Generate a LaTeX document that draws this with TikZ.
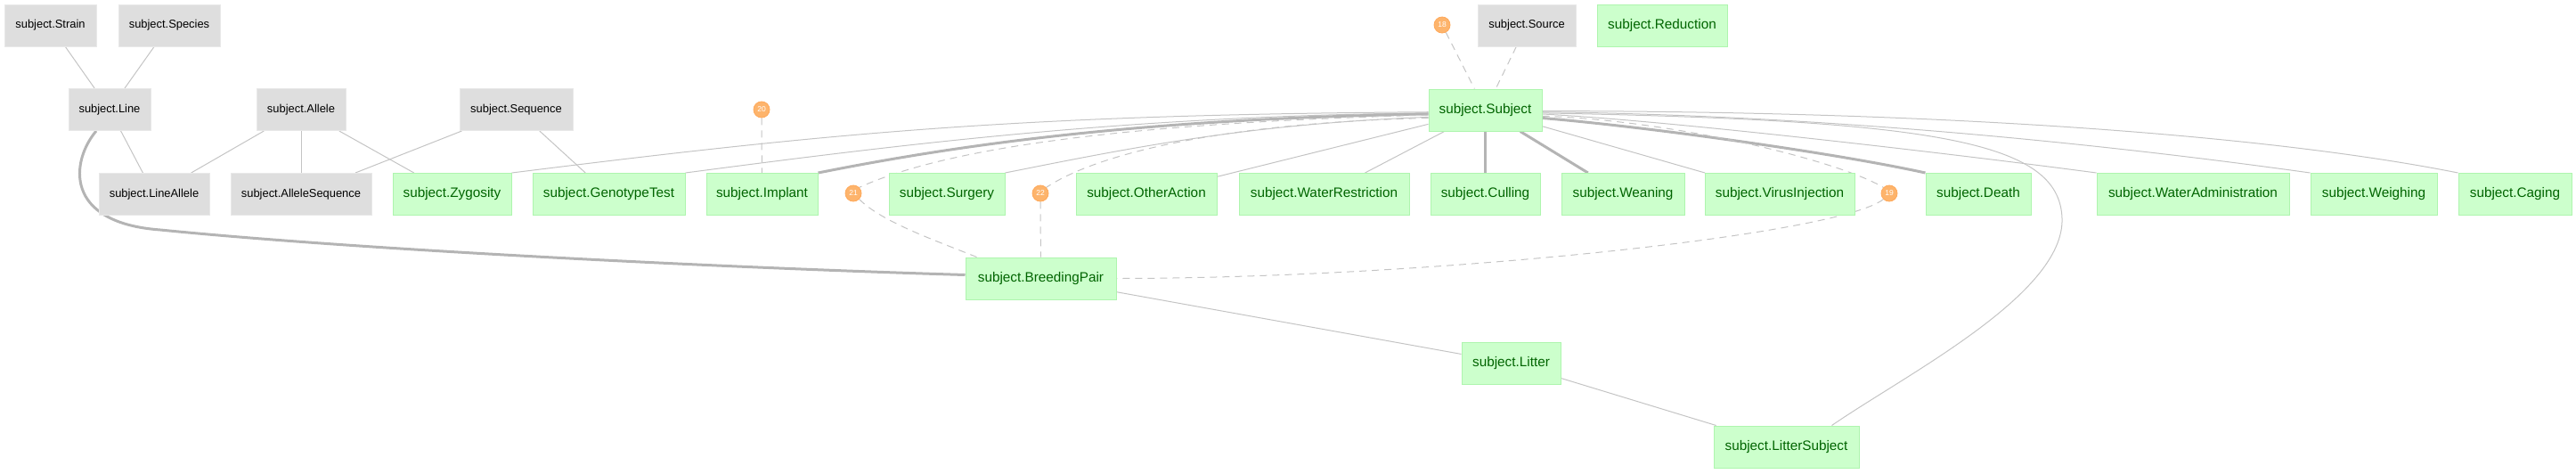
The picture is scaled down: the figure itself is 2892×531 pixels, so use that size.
\documentclass[tikz,border=0pt]{standalone}
\usepackage{fontspec}
\setmainfont{Liberation Sans}
\usetikzlibrary{backgrounds}
\definecolor{gfill}{HTML}{CCFFCC}
\definecolor{gborder}{HTML}{AEF5AE}
\definecolor{gtext}{HTML}{006400}
\definecolor{nfill}{HTML}{DEDEDE}
\definecolor{nborder}{HTML}{E8E8E8}
\definecolor{cfill}{HTML}{FDB46C}
\definecolor{cborder}{HTML}{FFA95A}
\definecolor{ecol}{HTML}{C4C4C4}
\definecolor{ecolt}{HTML}{B4B4B4}
\definecolor{dcol}{HTML}{C4C4C4}
\begin{document}
\begin{tikzpicture}[x=1pt,y=-1pt,
  gnode/.style={draw=gborder, fill=gfill, text=gtext, line width=1pt,
    font=\fontsize{15.3}{18}\selectfont, minimum height=47pt, inner sep=0pt, minimum width=#1},
  nnode/.style={draw=nborder, fill=nfill, text=black, line width=1pt,
    font=\fontsize{12.9}{15}\selectfont, minimum height=47pt, inner sep=0pt, minimum width=#1},
  numc/.style={circle, fill=cfill, draw=cborder, line width=0.8pt, text=white,
    font=\fontsize{8.5}{9}\selectfont, minimum size=18pt, inner sep=0pt},
  thinedge/.style={draw=ecol, line width=1pt},
  thickedge/.style={draw=ecolt, line width=3pt},
  dashedge/.style={draw=dcol, line width=1pt, dash pattern=on 8pt off 6pt}]
\useasboundingbox (0,0) rectangle (2892,531);
% gray nodes
\node[nnode=103] (strain) at (56.5,28.5) {subject.Strain};
\node[nnode=114] (species) at (190,28.5) {subject.Species};
\node[nnode=92] (line) at (123,123) {subject.Line};
\node[nnode=100] (allele) at (338,123) {subject.Allele};
\node[nnode=127] (sequence) at (579.5,123) {subject.Sequence};
\node[nnode=124] (lineallele) at (173,218) {subject.LineAllele};
\node[nnode=158] (alleleseq) at (338,218) {subject.AlleleSequence};
\node[nnode=110] (source) at (1714,28.5) {subject.Source};
% green nodes
\node[gnode=146] (reduction) at (1866,28.5) {subject.Reduction};
\node[gnode=127] (subj) at (1667.5,123.5) {subject.Subject};
\node[gnode=133] (zyg) at (507.5,218) {subject.Zygosity};
\node[gnode=171] (geno) at (683.5,218) {subject.GenotypeTest};
\node[gnode=125] (implant) at (855.5,218) {subject.Implant};
\node[gnode=130] (surgery) at (1063,218) {subject.Surgery};
\node[gnode=158] (other) at (1287,218) {subject.OtherAction};
\node[gnode=191] (waterrestr) at (1486.5,218) {subject.WaterRestriction};
\node[gnode=123] (culling) at (1667.5,218) {subject.Culling};
\node[gnode=138] (weaning) at (1822,218) {subject.Weaning};
\node[gnode=168] (virus) at (1998,218) {subject.VirusInjection};
\node[gnode=118] (death) at (2221,218) {subject.Death};
\node[gnode=216] (wateradmin) at (2462,218) {subject.WaterAdministration};
\node[gnode=142] (weighing) at (2665,218) {subject.Weighing};
\node[gnode=127] (caging) at (2823.5,218) {subject.Caging};
\node[gnode=169] (breeding) at (1168.5,312.5) {subject.BreedingPair};
\node[gnode=111] (litter) at (1696.5,407.5) {subject.Litter};
\node[gnode=163] (littersubj) at (2005.5,501.5) {subject.LitterSubject};
% number circles
\node[numc] (c18) at (1619,28) {18};
\node[numc] (c20) at (855,123) {20};
\node[numc] (c21) at (958,217) {21};
\node[numc] (c22) at (1168,217) {22};
\node[numc] (c19) at (2121,217) {19};
\coordinate (lsbend) at (2315,245);
\coordinate (lpbend) at (180,258);
\begin{scope}[on background layer]
% gray edges
\draw[thinedge] (strain) -- (line);
\draw[thinedge] (species) -- (line);
\draw[thinedge] (line) -- (lineallele);
\draw[thinedge] (allele) -- (lineallele);
\draw[thinedge] (allele) -- (alleleseq);
\draw[thinedge] (allele) -- (zyg);
\draw[thinedge] (sequence) -- (alleleseq);
\draw[thinedge] (sequence) -- (geno);
\draw[thickedge] ([xshift=-15pt]line.south) .. controls (80,180) and (70,250) .. (lpbend)
   .. controls (400,280) and (800,300) .. ([yshift=4pt]breeding.west);
% subject top
\draw[dashedge] (c18) -- (subj);
\draw[dashedge] (source) -- (subj);
\draw[dashedge] (c20) -- (implant);
% subject left side
\draw[thinedge] (subj.182) .. controls +(-460,3) and +(360,-45) .. (zyg.north east);
\draw[thinedge] (subj.183) .. controls +(-330,3) and +(250,-33) .. (geno.north east);
\draw[thickedge] (subj.184) .. controls +(-300,5) and +(180,-36) .. (implant.north east);
\draw[dashedge] (subj.185) .. controls +(-300,8) and +(110,-50) .. (c21.north east);
\draw[dashedge] (c21.south east) .. controls +(25,25) and +(-50,-20) .. ([xshift=13pt]breeding.north west);
\draw[thinedge] (subj.187) .. controls +(-200,8) and +(150,-30) .. (surgery.north east);
\draw[dashedge] (subj.188) .. controls +(-220,5) and +(60,-40) .. (c22.north east);
\draw[dashedge] (c22) -- (breeding);
\draw[thinedge] (subj) -- (other);
\draw[thinedge] (subj) -- (waterrestr);
\draw[thickedge] (subj) -- (culling);
\draw[thickedge] (subj) -- (weaning);
\draw[thinedge] (subj) -- (virus);
% subject right side
\draw[thickedge] (subj.352) .. controls +(120,10) and +(-100,-22) .. (death.north west);
\draw[dashedge] (subj.354) .. controls +(150,5) and +(-50,-30) .. (c19.north west);
\draw[dashedge] (c19.south west) .. controls +(-50,40) and +(350,0) .. (breeding.east);
\draw[thinedge] (subj.356) .. controls +(150,8) and +(-150,-20) .. (wateradmin.north west);
\draw[thinedge] (subj.357) .. controls (2180,135) and (2312,160) .. (lsbend)
   .. controls (2318,330) and (2140,420) .. ([xshift=51pt]littersubj.north);
\draw[thinedge] (subj.358) .. controls +(300,3) and +(-250,-35) .. (weighing.north west);
\draw[thinedge] (subj.359) .. controls +(470,0) and +(-200,-40) .. (caging.north west);
% breeding chain
\draw[thinedge] (breeding) -- (litter);
\draw[thinedge] (litter) -- (littersubj);
\end{scope}
\end{tikzpicture}
\end{document}
